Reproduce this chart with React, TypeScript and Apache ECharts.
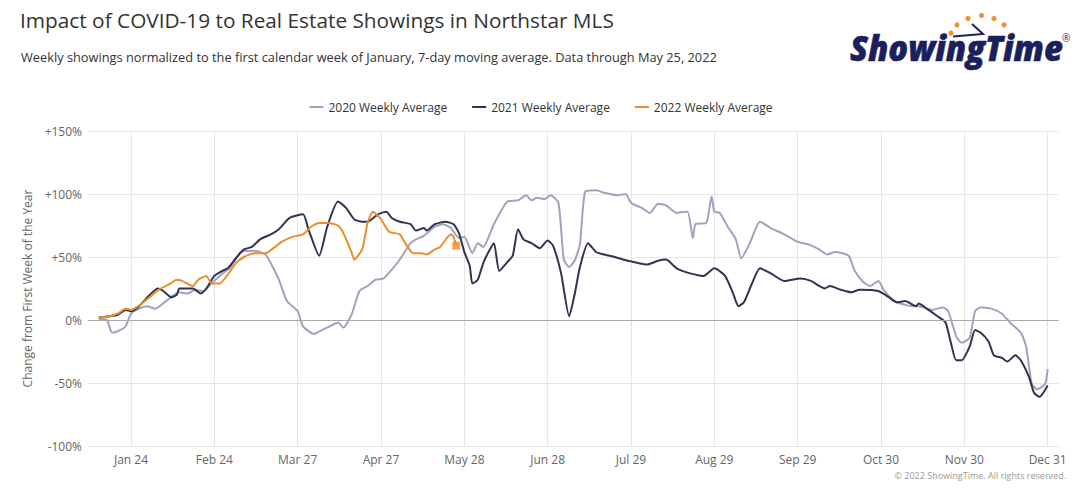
import React, { useEffect, useRef } from 'react';
import * as echarts from 'echarts';

const TITLE = 'Impact of COVID-19 to Real Estate Showings in Northstar MLS';
const SUBTITLE = 'Weekly showings normalized to the first calendar week of January, 7-day moving average. Data through May 25, 2022';
const COPYRIGHT = '\u00a9 2022 ShowingTime. All rights reserved.';
const Y_AXIS_NAME = 'Change from First Week of the Year';
const SERIES_NAMES = ['2020 Weekly Average', '2021 Weekly Average', '2022 Weekly Average'];
const COLORS = ['#a0a2bf', '#2f3452', '#ec8d2c'];

// Day-of-year indices (Jan 1 = 0) spanned by the x axis and where ticks/labels fall
const DAY_START = 7;
const DAY_END = 368;
const TICK_DAYS = [23, 54, 85, 116, 147, 178, 209, 240, 271, 302, 333, 364];
const MONTHS = ['Jan', 'Feb', 'Mar', 'Apr', 'May', 'Jun', 'Jul', 'Aug', 'Sep', 'Oct', 'Nov', 'Dec'];

const Y_MIN = -100;
const Y_MAX = 150;
const Y_STEP = 50;

// [day of year, % change]
const data2020: [number, number][] = [
  [11, 1], [14, 0], [16, -10], [19, -8], [21, -5], [23, 5], [26, 9], [29, 11], [32, 9], [36, 15],
  [39, 20], [41, 22], [44, 21], [47, 24], [50, 23], [53, 29], [56, 35], [60, 42], [64, 54], [69, 55],
  [73, 52], [75, 45], [78, 32], [81, 15], [85, 7], [87, -5], [91, -11], [94, -8], [97, -5], [100, -2],
  [102, -6], [105, 4], [108, 23], [111, 27], [114, 32], [117, 33], [120, 40], [123, 48], [127, 61], [129, 64],
  [132, 67], [136, 74], [139, 76], [142, 73], [145, 65], [147, 66], [150, 53], [152, 61], [154, 58], [158, 76],
  [163, 94], [167, 95], [170, 99], [172, 95], [174, 97], [177, 96], [179, 99], [182, 93], [184, 48], [186, 42],
  [188, 47], [190, 60], [192, 102], [196, 103], [199, 101], [204, 99], [207, 100], [209, 93], [213, 89], [216, 85],
  [219, 92], [222, 91], [226, 85], [230, 86], [232, 65], [233, 76], [237, 77], [239, 98], [240, 86], [242, 85],
  [245, 74], [248, 64], [250, 49], [253, 60], [257, 78], [261, 73], [266, 68], [271, 62], [275, 60], [279, 56],
  [282, 52], [285, 54], [290, 51], [292, 40], [295, 31], [298, 27], [301, 31], [303, 24], [307, 15], [311, 12],
  [314, 11], [316, 11], [321, 8], [325, 10], [327, 7], [330, -13], [332, -18], [335, -14], [337, 7], [339, 10],
  [343, 9], [347, 5], [350, -2], [354, -10], [356, -21], [358, -50], [360, -55], [363, -51], [364, -39],
];

const data2021: [number, number][] = [
  [11, 2], [15, 3], [18, 4], [21, 8], [23, 7], [26, 11], [30, 20], [33, 25], [35, 23], [38, 18],
  [40, 20], [41, 25], [46, 25], [49, 21], [51, 25], [54, 35], [57, 39], [59, 41], [62, 49], [65, 56],
  [68, 58], [71, 64], [75, 68], [78, 72], [82, 81], [87, 84], [89, 72], [93, 51], [96, 74], [100, 94],
  [103, 89], [106, 80], [109, 78], [111, 78], [115, 84], [118, 86], [120, 81], [123, 78], [127, 76], [129, 71],
  [132, 73], [133, 71], [136, 76], [140, 78], [143, 76], [145, 69], [147, 54], [149, 43], [150, 29], [152, 32],
  [154, 45], [156, 54], [158, 61], [160, 39], [163, 46], [165, 51], [167, 72], [169, 64], [172, 61], [175, 57],
  [178, 63], [180, 59], [183, 37], [186, 3], [188, 20], [190, 42], [193, 61], [196, 54], [199, 52], [203, 50],
  [206, 48], [210, 46], [215, 44], [219, 47], [222, 48], [226, 41], [231, 37], [236, 35], [240, 41], [244, 35],
  [247, 21], [249, 11], [251, 14], [254, 29], [257, 41], [261, 37], [266, 31], [272, 33], [276, 31], [279, 27],
  [281, 25], [283, 27], [287, 24], [291, 22], [294, 24], [301, 23], [305, 18], [308, 14], [311, 15], [315, 11],
  [316, 13], [319, 9], [323, 3], [326, -2], [328, -18], [330, -32], [332, -32], [335, -21], [337, -8], [339, -10],
  [342, -17], [344, -28], [347, -30], [349, -33], [352, -28], [354, -32], [357, -45], [359, -58], [361, -61], [364, -52],
];

const data2022: [number, number][] = [
  [11, 2], [15, 3], [18, 5], [21, 9], [23, 8], [27, 13], [31, 20], [34, 25], [37, 28], [40, 32],
  [42, 31], [46, 27], [48, 32], [51, 35], [53, 29], [56, 29], [59, 36], [62, 45], [65, 50], [69, 53],
  [73, 53], [76, 57], [79, 62], [83, 66], [87, 68], [90, 74], [93, 77], [96, 77], [100, 75], [102, 69],
  [105, 54], [106, 48], [109, 56], [111, 77], [113, 86], [116, 80], [119, 70], [123, 68], [125, 61], [128, 53],
  [131, 53], [133, 52], [136, 56], [138, 58], [142, 68], [143, 66], [144, 59],
];

const LOGO_DOTS: [number, number][] = [
  [951, 33], [957, 25], [968, 18.5], [981.5, 15.5], [994, 18.5], [1004, 25], [1012, 35],
];

function dayLabel(d: number): string {
  const dt = new Date(2021, 0, 1 + d);
  return MONTHS[dt.getMonth()] + ' ' + dt.getDate();
}

const CATEGORIES: string[] = [];
for (let d = DAY_START; d <= DAY_END; d++) CATEGORIES.push(dayLabel(d));

const toSeries = (arr: [number, number][]) => arr.map(([d, v]) => [d - DAY_START, v]);
const isTick = (idx: number) => TICK_DAYS.indexOf(idx + DAY_START) >= 0;

function measure(text: string, font: string): number {
  const c = document.createElement('canvas').getContext('2d');
  if (!c) return 0;
  c.font = font;
  return c.measureText(text).width;
}

export default function App() {
  const ref = useRef<HTMLDivElement>(null);

  useEffect(() => {
    if (!ref.current) return;
    const chart = echarts.init(ref.current, undefined, { renderer: 'svg' });
    const FF = '"Open Sans", "Noto Sans", sans-serif';

    const logoFont = 'italic 800 36px "Open Sans"';
    const logoW = measure('ShowingTime', logoFont) || 230;
    const logoScale = 213 / logoW;

    const last2022 = data2022[data2022.length - 1];

    const mkLine = (name: string, data: [number, number][], color: string, extra: any = {}) => ({
      name,
      type: 'line',
      data: toSeries(data),
      symbol: 'none',
      smooth: 0.2,
      lineStyle: { color, width: 2 },
      itemStyle: { color },
      ...extra,
    });

    const option: any = {
      animation: false,
      textStyle: { fontFamily: FF },
      title: [
        { text: TITLE, left: 15, top: 4, textStyle: { fontFamily: FF, fontSize: 20.8, fontWeight: 'normal', color: '#333' } },
        { text: SUBTITLE, left: 16, top: 45, textStyle: { fontFamily: FF, fontSize: 12.8, fontWeight: 'normal', color: '#333' } },
        { text: COPYRIGHT, right: 11, top: 466, textStyle: { fontFamily: FF, fontSize: 9, fontWeight: 'normal', color: '#999' } },
      ],
      legend: {
        data: SERIES_NAMES,
        top: 96,
        left: 'center',
        icon: 'rect',
        itemWidth: 14,
        itemHeight: 2,
        itemGap: 25,
        textStyle: { fontFamily: FF, fontSize: 12, color: '#333' },
      },
      grid: { left: 88, right: 23.6, top: 131, bottom: 47, containLabel: false, outerBoundsMode: 'none' },
      xAxis: {
        type: 'category',
        data: CATEGORIES,
        boundaryGap: false,
        axisLine: { show: true, lineStyle: { color: '#dcdcdc' } },
        axisTick: { show: true, interval: (i: number) => isTick(i), length: 5, lineStyle: { color: '#dcdcdc' } },
        axisLabel: { interval: (i: number) => isTick(i), color: '#666', fontSize: 12, margin: 7, fontFamily: FF },
        splitLine: { show: true, interval: (i: number) => isTick(i), lineStyle: { color: '#e6e6e6' } },
      },
      yAxis: {
        type: 'value',
        min: Y_MIN,
        max: Y_MAX,
        interval: Y_STEP,
        name: Y_AXIS_NAME,
        nameLocation: 'middle',
        nameGap: 54,
        nameTextStyle: { color: '#666', fontSize: 12, fontFamily: FF },
        axisLine: { show: false },
        axisTick: { show: false },
        axisLabel: {
          color: '#666',
          fontSize: 12,
          margin: 6,
          fontFamily: FF,
          formatter: (v: number) => (v > 0 ? '+' + v + '%' : v + '%'),
        },
        splitLine: { lineStyle: { color: '#e6e6e6' } },
      },
      series: [
        mkLine(SERIES_NAMES[0], data2020, COLORS[0], {
          markLine: {
            silent: true,
            symbol: ['none', 'none'],
            label: { show: false },
            lineStyle: { color: '#a8a8a8', width: 1, type: 'solid' },
            data: [{ yAxis: 0 }],
          },
        }),
        mkLine(SERIES_NAMES[1], data2021, COLORS[1]),
        mkLine(SERIES_NAMES[2], data2022, COLORS[2]),
        {
          name: 'last2022',
          type: 'scatter',
          data: [[last2022[0] - DAY_START, last2022[1]]],
          symbol: 'rect',
          symbolSize: 8,
          itemStyle: { color: COLORS[2] },
          z: 5,
        },
      ],
      graphic: [
        {
          type: 'group',
          silent: true,
          children: [
            ...LOGO_DOTS.map(([x, y]) => ({
              type: 'circle',
              shape: { cx: x, cy: y, r: 2.6 },
              style: { fill: '#f0932f' },
            })),
            {
              type: 'polyline',
              shape: { points: [[972, 24], [983, 34], [953, 36.5]] },
              style: { stroke: '#1b1f5e', lineWidth: 2, fill: null },
            },
            {
              type: 'text',
              x: 850,
              y: 65,
              scaleX: logoScale,
              style: {
                text: 'ShowingTime',
                font: logoFont,
                fill: '#1b1f5e',
                stroke: '#1b1f5e',
                lineWidth: 0.6,
                textVerticalAlign: 'bottom',
                verticalAlign: 'bottom',
              },
            },
            {
              type: 'text',
              x: 1062,
              y: 33,
              style: { text: '\u00ae', fontSize: 10, fill: '#1b1f5e', fontFamily: FF },
            },
          ],
        },
      ],
    };

    chart.setOption(option);
    return () => chart.dispose();
  }, []);

  return (
    <div
      ref={ref}
      style={{ position: 'fixed', left: 0, top: 0, width: 1082, height: 493, background: '#fff' }}
    />
  );
}
